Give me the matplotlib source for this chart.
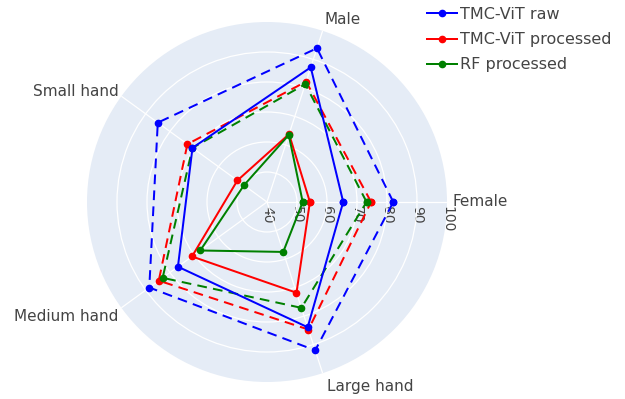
import numpy as np
import matplotlib
matplotlib.use("Agg")
import matplotlib.pyplot as plt
from matplotlib.lines import Line2D
from matplotlib.transforms import offset_copy

plt.rcParams['font.family'] = ['DejaVu Sans']
plt.rcParams['lines.scale_dashes'] = False

categories = ['Female', 'Male', 'Small hand', 'Medium hand', 'Large hand']
radial_ticks = [40, 50, 60, 70, 80, 90, 100]

tmc_raw = [65.4, 87.2, 70.7, 76.7, 83.9]
tmc_raw_dashed = [82.1, 93.9, 85.0, 88.5, 92.0]
tmc_proc = [54.3, 63.8, 52.2, 70.9, 71.8]
tmc_proc_dashed = [74.7, 82.2, 72.8, 84.6, 84.7]
rf_proc = [51.9, 63.5, 49.5, 67.5, 57.5]
rf_proc_dashed = [73.2, 81.3, 70.7, 83.0, 77.1]

series = [
    ('TMC-ViT raw', 'blue', tmc_raw, tmc_raw_dashed),
    ('TMC-ViT processed', 'red', tmc_proc, tmc_proc_dashed),
    ('RF processed', 'green', rf_proc, rf_proc_dashed),
]

W, H = 625, 399
fig = plt.figure(figsize=(W / 100, H / 100), dpi=100)
cx, cy, R = 267, 202, 180
ax = fig.add_axes([(cx - R) / W, (H - cy - R) / H, 2 * R / W, 2 * R / H], projection='polar')
ax.set_facecolor('#E5ECF6')
ax.spines['polar'].set_visible(False)
ax.set_theta_zero_location('E')
ax.set_theta_direction(1)
ax.set_ylim(40, 100)

n = len(categories)
theta = np.deg2rad(np.arange(n) * 360.0 / n)
ax.set_xticks(theta)
ax.set_xticklabels([])
ax.set_yticks(radial_ticks[1:-1])
ax.set_yticklabels([])
ax.grid(True, color='white', linewidth=0.9)
ax.tick_params(length=0)

# radial tick labels (rotated, along Female axis)
toff = offset_copy(ax.transData, fig=fig, x=0, y=-4, units='dots')
for t in radial_ticks:
    ax.text(0, t, str(t), rotation=-90, ha='center', va='top', fontsize=10,
            color='#444444', transform=toff, zorder=1, clip_on=False)

th_closed = np.append(theta, theta[0])
lw = 1.44
ms = 4.5
for name, col, solid, dashed in series:
    s = np.append(solid, solid[0])
    d = np.append(dashed, dashed[0])
    ax.plot(th_closed, d, color=col, linewidth=lw, linestyle=(0, (7.0, 4.5)),
            marker='o', markersize=ms, zorder=3, clip_on=False)
    ax.plot(th_closed, s, color=col, linewidth=lw, marker='o', markersize=ms,
            zorder=4, clip_on=False)

# angular labels
def fx(x):
    return x / W

def fy(y):
    return 1 - y / H

lab_kw = dict(fontsize=11, color='#444444')
fig.text(fx(453), fy(201), categories[0], ha='left', va='center', **lab_kw)
fig.text(fx(325), fy(24), categories[1], ha='left', va='baseline', **lab_kw)
fig.text(fx(119), fy(95.5), categories[2], ha='right', va='baseline', **lab_kw)
fig.text(fx(118), fy(309), categories[3], ha='right', va='top', **lab_kw)
fig.text(fx(327), fy(379), categories[4], ha='left', va='top', **lab_kw)

handles = [Line2D([0], [0], color=col, linewidth=lw, marker='o', markersize=ms)
           for _, col, _, _ in series]
fig.legend(handles, [s[0] for s in series], loc='upper left',
           bbox_to_anchor=(fx(427), fy(7)), frameon=False, fontsize=11.5,
           handlelength=1.85, handletextpad=0.2, labelspacing=0.64,
           borderpad=0, borderaxespad=0, labelcolor='#444444')

fig.savefig('out.png', dpi=100)
